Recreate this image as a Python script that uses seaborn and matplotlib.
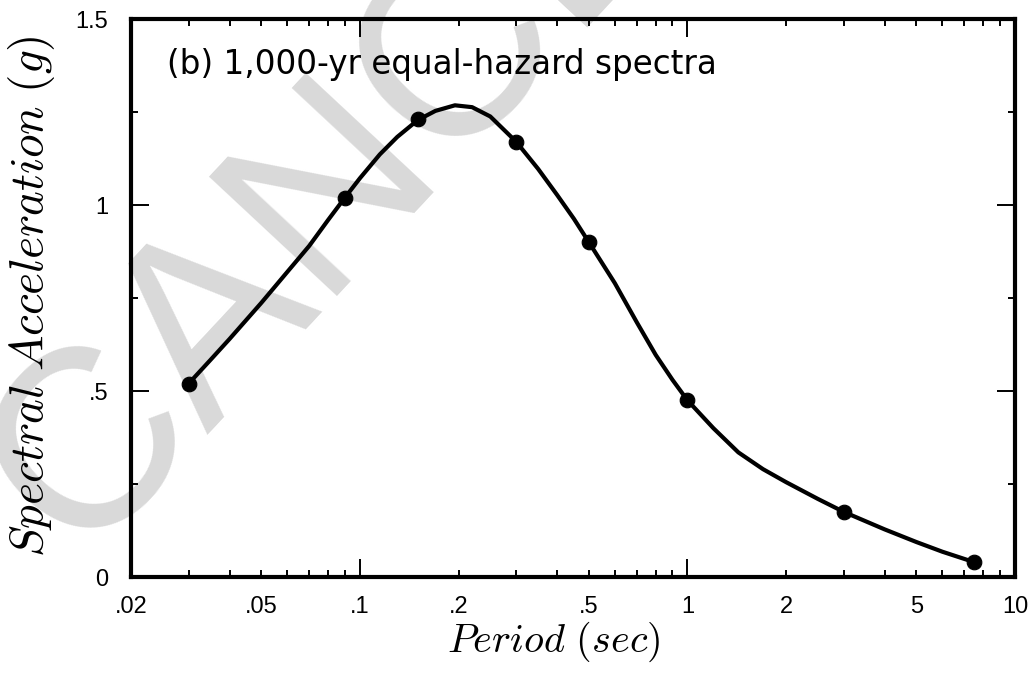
import matplotlib
matplotlib.use("Agg")
import matplotlib.pyplot as plt
import matplotlib.ticker as mticker
import pandas as pd
import seaborn as sns

# marked periods (sec) and spectral acceleration (g)
periods = [0.03, 0.09, 0.15, 0.3, 0.5, 1.0, 3.0, 7.5]
sa_points = [0.52, 1.02, 1.23, 1.17, 0.90, 0.475, 0.175, 0.04]

# smooth curve
curve_periods = [0.03, 0.035, 0.04, 0.05, 0.06, 0.07, 0.08, 0.09, 0.1, 0.115,
                 0.13, 0.15, 0.17, 0.195, 0.22, 0.25, 0.3, 0.35, 0.4, 0.45,
                 0.5, 0.6, 0.7, 0.8, 0.9, 1.0, 1.2, 1.43, 1.7, 2.0, 2.5,
                 3.0, 4.0, 5.0, 6.0, 7.5]
curve_sa = [0.52, 0.584, 0.640, 0.737, 0.820, 0.89, 0.96, 1.02, 1.072, 1.136,
            1.183, 1.228, 1.253, 1.268, 1.263, 1.238, 1.17, 1.097, 1.027, 0.963,
            0.90, 0.79, 0.685, 0.597, 0.53, 0.475, 0.40, 0.335, 0.29, 0.255, 0.21,
            0.175, 0.128, 0.094, 0.068, 0.04]

x_labels = {0.02: ".02", 0.05: ".05", 0.1: ".1", 0.2: ".2", 0.5: ".5",
            1: "1", 2: "2", 5: "5", 10: "10"}
y_labels = {0: "0", 0.5: ".5", 1.0: "1", 1.5: "1.5"}

sns.set_theme(style="ticks")
plt.rcParams["font.family"] = ["Liberation Sans", "DejaVu Sans"]
plt.rcParams["mathtext.fontset"] = "cm"
plt.rcParams["text.color"] = "black"
plt.rcParams["axes.labelcolor"] = "black"

fig = plt.figure(figsize=(10.32, 6.85), dpi=100)
ax = fig.add_axes([131 / 1032, 1 - 577 / 685, 884 / 1032, 558 / 685])
ax.set_facecolor("none")

# watermark behind the plot
fig.text(0.4165, 0.734, "CANCEL", rotation=47, rotation_mode="anchor",
         ha="center", va="baseline", fontsize=183, color="#d9d9d9",
         family="Liberation Sans", zorder=-5)

curve = pd.DataFrame({"period": curve_periods, "sa": curve_sa})
pts = pd.DataFrame({"period": periods, "sa": sa_points})
sns.lineplot(data=curve, x="period", y="sa", ax=ax, color="black", lw=3)
sns.scatterplot(data=pts, x="period", y="sa", ax=ax, color="black", s=110,
                edgecolor="black", zorder=5)

ax.set_xscale("log")
ax.set_xlim(0.02, 10)
ax.set_ylim(0, 1.5)

ax.xaxis.set_major_locator(mticker.FixedLocator([0.1, 1, 10]))
minor_x = [m * d for d in (0.01, 0.1, 1) for m in range(2, 10)]
ax.xaxis.set_minor_locator(mticker.FixedLocator(minor_x))
ax.xaxis.set_major_formatter(mticker.FuncFormatter(lambda v, p: x_labels.get(round(v, 3), "")))
ax.xaxis.set_minor_formatter(mticker.FuncFormatter(lambda v, p: x_labels.get(round(v, 3), "")))

ax.yaxis.set_major_locator(mticker.FixedLocator([0, 0.5, 1.0, 1.5]))
ax.yaxis.set_minor_locator(mticker.FixedLocator([0.25, 0.75, 1.25]))
ax.yaxis.set_major_formatter(mticker.FuncFormatter(lambda v, p: y_labels.get(round(v, 2), "")))

ax.tick_params(which="both", direction="in", top=True, right=True, width=1.4,
               labelsize=17, colors="black")
ax.tick_params(which="major", length=13)
ax.tick_params(which="minor", length=5)
ax.tick_params(axis="x", which="both", pad=14)
ax.tick_params(axis="y", which="both", pad=16.5)

for s in ax.spines.values():
    s.set_linewidth(3)
    s.set_color("black")

ax.set_xlabel(r"$\mathit{Period\ (sec)}$", fontsize=29)
ax.xaxis.set_label_coords(0.478, -0.077)
ax.xaxis.label.set_va("top")
ax.set_ylabel(r"$\mathit{Spectral\ Acceleration\ (g)}$", fontsize=34)
ax.yaxis.set_label_coords(-0.084, 0.504)

ax.text(0.041, 0.919, "(b) 1,000-yr equal-hazard spectra", transform=ax.transAxes,
        fontsize=23.5, family="DejaVu Sans", va="center", ha="left", color="black")

fig.savefig("out.png", dpi=100)
